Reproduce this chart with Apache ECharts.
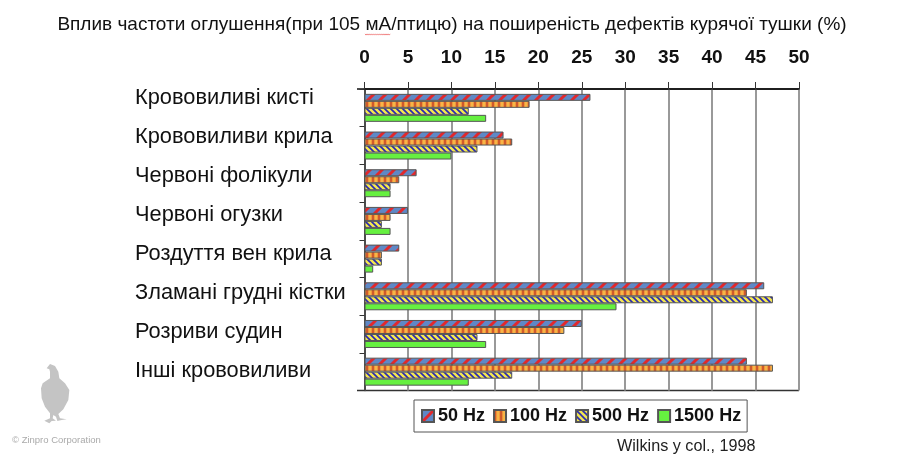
<!DOCTYPE html>
<html><head><meta charset="utf-8">
<style>html,body{margin:0;padding:0;background:#fff}#c{width:900px;height:461px}</style>
<script src="https://cdn.jsdelivr.net/npm/echarts@6/dist/echarts.min.js"></script>
</head><body><div id="c"></div>
<script>
const categories = ['Крововиливі кисті','Крововиливи крила','Червоні фолікули','Червоні огузки','Роздуття вен крила','Зламані грудні кістки','Розриви судин','Інші крововиливи'];
const hz50 = [26,16,6,5,4,46,25,44];
const hz100 = [19,17,4,3,2,44,23,47];
const hz500 = [12,13,3,2,2,47,13,17];
const hz1500 = [14,10,3,3,1,29,14,12];
const seriesNames = ['50 Hz','100 Hz','500 Hz','1500 Hz'];

function pattern(w,h,bg,draw){
  const c=document.createElement('canvas');c.width=w;c.height=h;
  const x=c.getContext('2d');x.fillStyle=bg;x.fillRect(0,0,w,h);draw(x);
  return {image:c,repeat:'repeat'};
}
const p50=pattern(12,12,'#5f88c6',x=>{x.strokeStyle='#e2282c';x.lineWidth=3;
  [[-3,15,15,-3],[-15,15,3,-3],[9,15,21,3]].forEach(l=>{x.beginPath();x.moveTo(l[0],l[1]);x.lineTo(l[2],l[3]);x.stroke();});});
const p100=pattern(6,6,'#f2963a',x=>{x.fillStyle='#cf5a2c';x.fillRect(0,0,2,6);x.fillStyle='#f6b648';x.fillRect(3,0,2,6);});
const p500=pattern(6,6,'#f4e850',x=>{x.strokeStyle='#2828b4';x.lineWidth=1.7;
  [[-3,-3,9,9],[-3,3,3,9],[3,-3,9,3]].forEach(l=>{x.beginPath();x.moveTo(l[0],l[1]);x.lineTo(l[2],l[3]);x.stroke();});});
const fills=[p50,p100,p500,'#66f040'];
const values=[hz50,hz100,hz500,hz1500];
const ticksFont='"Liberation Sans",sans-serif';
const chicken=[[140,55],[150,42],[165,48],[175,65],[178,85],[195,100],[208,120],[205,150],[190,178],[175,192],[180,205],[200,208],[185,210],[172,213],[168,200],[160,195],[158,205],[168,212],[155,213],[148,220],[133,212],[150,205],[150,190],[135,170],[125,145],[123,115],[128,100],[150,85],[150,65],[148,58]].map(p=>[p[0]/3,p[1]/3+350]);
const squiggle=[];
for(let i=0;i<=24;i++) squiggle.push([365+i*1.05,34+(i%2?1.1:-0.1)]);

const chart=echarts.init(document.getElementById('c'),null,{renderer:'canvas'});
chart.setOption({
  animation:false,
  backgroundColor:'#fff',
  title:{text:'Вплив частоти оглушення(при 105 мА/птицю) на поширеність дефектів курячої тушки (%)',left:447,top:10,textAlign:'center',
    textStyle:{fontFamily:'Liberation Sans',fontSize:19,fontWeight:'normal',color:'#111'}},
  legend:{data:seriesNames,left:414,top:400,padding:[7,6,7,7],itemGap:8,itemWidth:12,itemHeight:12,
    icon:'rect',borderColor:'#555',borderWidth:1,backgroundColor:'#fff',
    textStyle:{fontFamily:ticksFont,fontWeight:'bold',fontSize:18,color:'#111',padding:[0,0,0,-1]}},
  grid:[{left:364.5,top:89,width:434.5,height:301.5},{left:364.5,top:78.5,width:434.5,height:312}],
  xAxis:[
    {gridIndex:0,type:'value',position:'top',min:0,max:50,interval:5,
     axisLine:{show:true,lineStyle:{color:'#111',width:1.5}},
     axisTick:{show:true,length:7,lineStyle:{color:'#333'}},
     axisLabel:{show:true,margin:22,fontFamily:ticksFont,fontWeight:'bold',fontSize:19,color:'#111'},
     splitLine:{show:true,lineStyle:{color:'#999',width:2}}},
    {gridIndex:1,type:'value',min:0,max:50,show:false}
  ],
  yAxis:[
    {gridIndex:0,type:'category',inverse:true,data:categories,
     axisLine:{show:true,onZero:false,lineStyle:{color:'#333',width:1.5}},
     axisTick:{show:true,length:5,inside:false,lineStyle:{color:'#333'}},
     axisLabel:{show:false},splitLine:{show:false}},
    {gridIndex:1,type:'category',inverse:true,data:categories,
     axisLine:{show:false},axisTick:{show:false},splitLine:{show:false},
     axisLabel:{show:true,align:'left',margin:229.5,fontFamily:'Liberation Sans',fontSize:21.8,color:'#111'}}
  ],
  series:seriesNames.map((n,i)=>({name:n,type:'bar',xAxisIndex:0,yAxisIndex:0,data:values[i],barWidth:7,barGap:0,
    itemStyle:{color:fills[i],borderColor:'#555',borderWidth:1}})),
  graphic:[
    {type:'line',silent:true,shape:{x1:357,y1:89,x2:799,y2:89},style:{stroke:'#111',lineWidth:1.5}},
    {type:'line',silent:true,shape:{x1:357,y1:390.5,x2:799,y2:390.5},style:{stroke:'#333',lineWidth:1.5}},
    {type:'polygon',silent:true,shape:{points:chicken},style:{fill:'#c4c4c4'}},
    {type:'polyline',silent:true,shape:{points:squiggle},style:{stroke:'#e77',lineWidth:0.9,fill:null}},
    {type:'text',silent:true,left:12,top:435,style:{text:'© Zinpro Corporation',font:'9.5px "Liberation Sans"',fill:'#aaa'}},
    {type:'text',silent:true,left:617,top:439,style:{text:'Wilkins y col., 1998',font:'16.2px "Liberation Sans"',fill:'#222'}}
  ]
});
</script></body></html>
